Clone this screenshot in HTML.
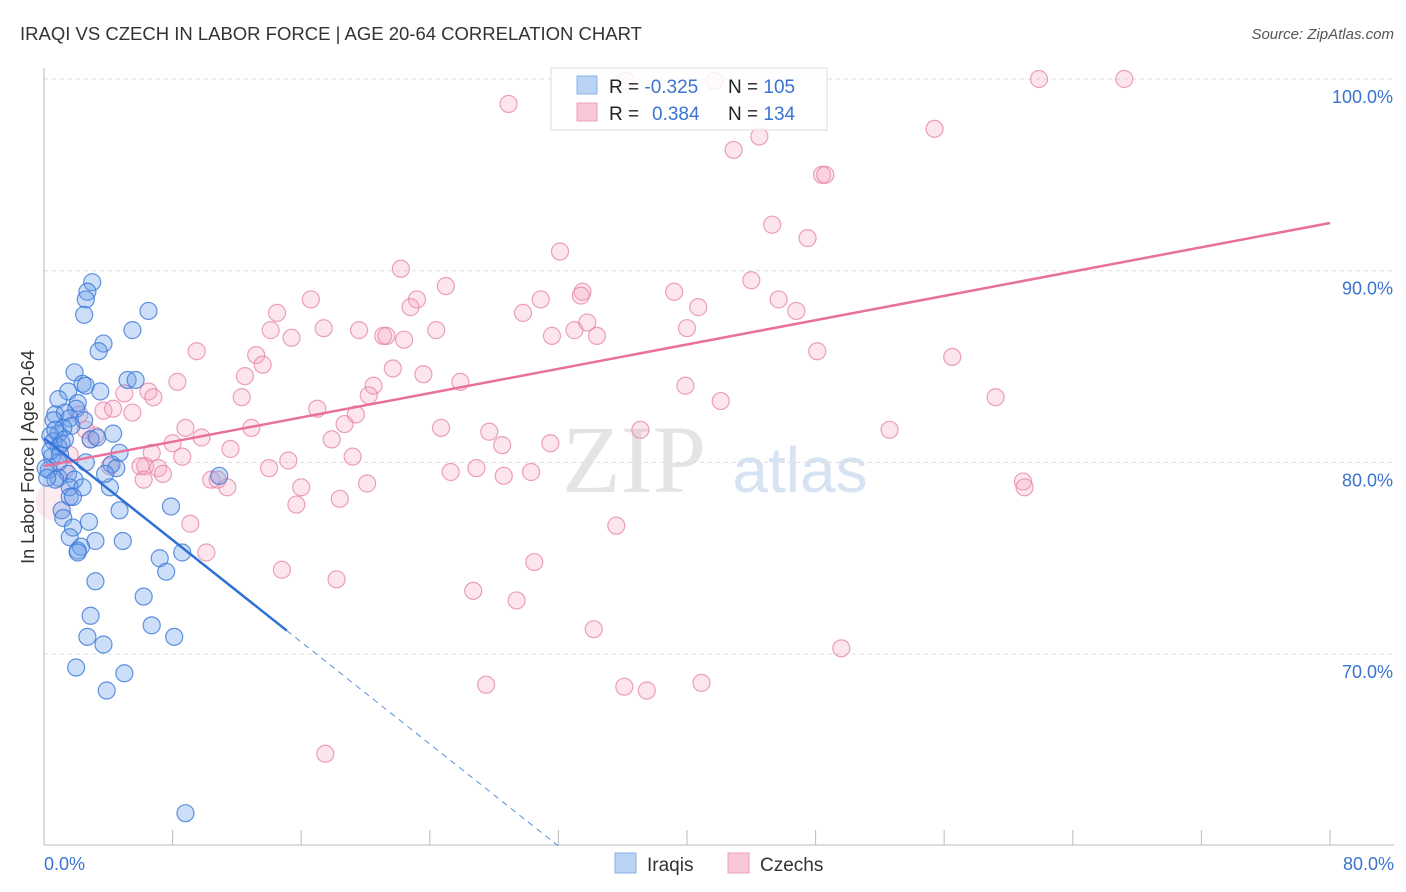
<!DOCTYPE html>
<html><head><meta charset="utf-8"><style>
body{margin:0;background:#fff;font-family:"Liberation Sans",sans-serif}
svg{display:block}
</style></head><body>
<svg id="chart" width="1406" height="892" xmlns="http://www.w3.org/2000/svg">
<text x="20" y="40" font-size="18.5" fill="#333">IRAQI VS CZECH IN LABOR FORCE | AGE 20-64 CORRELATION CHART</text>
<text x="1394" y="39" font-size="15" fill="#555" font-style="italic" text-anchor="end">Source: ZipAtlas.com</text>
<text x="634" y="492" font-size="96" fill="#e4e4e4" font-family="Liberation Serif,serif" text-anchor="middle">ZIP</text>
<text x="800" y="492" font-size="64" fill="#d6e3f3" text-anchor="middle">atlas</text>
<g id="grid"></g>
<g id="pts"></g>
<g id="lines"></g>
<text transform="translate(34,457) rotate(-90)" font-size="18" fill="#333" text-anchor="middle">In Labor Force | Age 20-64</text>
<g>
<rect x="551" y="68" width="276" height="62" fill="#fff" fill-opacity="0.82" stroke="#ddd"/>
<rect x="577" y="76" width="20" height="18" fill="#b9d3f5" stroke="#8ab0e8"/>
<rect x="577" y="103" width="20" height="18" fill="#f9c8d8" stroke="#eda0b9"/>
<text x="609" y="93" font-size="19" fill="#222">R = <tspan fill="#3a73d0">-0.325</tspan><tspan x="728">N = </tspan><tspan fill="#3a73d0">105</tspan></text>
<text x="609" y="120" font-size="19" fill="#222">R = <tspan x="652" fill="#3a73d0">0.384</tspan><tspan x="728">N = </tspan><tspan fill="#3a73d0">134</tspan></text>
</g>
<g>
<rect x="615" y="853" width="21" height="20" fill="#b9d3f5" stroke="#8ab0e8"/>
<text x="647" y="871" font-size="19" fill="#333">Iraqis</text>
<rect x="728" y="853" width="21" height="20" fill="#f9c8d8" stroke="#eda0b9"/>
<text x="760" y="871" font-size="19" fill="#333">Czechs</text>
</g>
</svg>
<script>
const xTicks=[0,8,16,24,32,40,48,56,64,72,80];
const yTicks=[70,80,90,100];
const yTickLabels=["70.0%","80.0%","90.0%","100.0%"];
const xAxisLabels=["0.0%","80.0%"];
const iraqX=[3.0,2.7,2.6,2.5,6.5,5.5,3.7,3.4,1.9,2.4,2.6,1.5,3.5,5.2,5.7,0.9,2.1,2.0,0.7,1.3,0.6,1.6,2.5,1.7,4.3,1.2,0.9,0.4,0.6,1.1,0.9,2.9,3.3,4.7,0.5,0.9,2.6,4.2,4.5,0.3,0.9,1.5,1.9,1.6,2.4,4.1,1.6,1.8,10.9,3.8,4.7,7.9,1.1,2.8,1.2,1.8,1.6,3.2,4.9,2.3,2.1,2.1,7.2,8.6,7.6,3.2,6.2,2.9,6.7,2.7,8.1,3.7,2.0,5.0,3.9,8.8,0.7,0.4,1.0,0.7,1.3,0.1,0.2];
const iraqY=[89.4,88.9,88.5,87.7,87.9,86.9,86.2,85.8,84.7,84.1,84.0,83.7,83.7,84.3,84.3,83.3,83.1,82.8,82.5,82.6,82.2,82.3,82.2,81.9,81.5,81.8,81.5,81.4,81.1,81.0,80.8,81.2,81.3,80.5,80.3,80.0,80.0,79.9,79.7,79.6,79.2,79.4,79.1,78.7,78.7,78.7,78.2,78.2,79.3,79.4,77.5,77.7,77.5,76.9,77.1,76.6,76.1,75.9,75.9,75.6,75.4,75.3,75.0,75.3,74.3,73.8,73.0,72.0,71.5,70.9,70.9,70.5,69.3,69.0,68.1,61.7,79.1,80.6,80.4,81.7,81.2,79.7,79.2];
const czechX=[28.9,36.2,41.7,61.9,67.2,55.4,42.9,44.5,48.4,48.6,45.3,47.5,32.1,22.2,25.0,16.6,33.5,33.4,39.2,40.7,44.0,45.7,46.8,30.9,29.8,23.2,22.8,14.5,14.1,15.4,17.4,19.6,21.1,21.3,22.4,24.4,31.6,33.0,33.8,34.4,40.0,9.5,13.2,13.6,21.7,23.6,25.9,12.5,8.3,20.5,20.2,12.3,39.9,42.1,48.1,56.5,59.2,52.6,5.0,6.5,6.8,3.7,4.3,5.5,17.0,18.7,19.4,17.9,24.7,27.7,28.5,31.5,37.1,12.9,8.8,9.8,8.0,6.7,8.6,11.6,6.0,6.3,7.1,7.4,6.2,4.1,14.0,15.2,19.2,25.3,26.9,28.6,30.3,10.4,10.8,11.4,16.0,20.1,18.4,15.7,60.9,61.0,9.1,10.1,14.8,18.2,30.5,35.6,26.7,29.4,34.2,49.6,27.5,36.1,37.5,40.9,17.5,2.6,2.9,3.2,2.2,1.6,1.3];
const czechY=[98.7,99.9,99.9,100,100,97.4,96.3,97.0,95.0,95.0,92.4,91.7,91.0,90.1,89.2,88.5,88.9,88.7,88.9,88.1,89.5,88.5,87.9,88.5,87.8,88.5,88.1,87.8,86.9,86.5,87.0,86.9,86.6,86.6,86.4,86.9,86.6,86.9,87.3,86.6,87.0,85.8,85.6,85.1,84.9,84.6,84.2,84.5,84.2,84.0,83.5,83.4,84.0,83.2,85.8,85.5,83.4,81.7,83.6,83.7,83.4,82.7,82.8,82.6,82.8,82.0,82.5,81.2,81.8,81.6,80.9,81.0,81.7,81.8,81.8,81.3,81.0,80.5,80.3,80.7,79.8,79.8,79.7,79.4,79.1,79.8,79.7,80.1,80.3,79.5,79.7,79.3,79.5,79.1,79.1,78.7,78.7,78.9,78.1,77.8,79.0,78.7,76.8,75.3,74.4,73.9,74.8,76.7,73.3,72.8,71.3,70.3,68.4,68.3,68.1,68.5,64.8,81.7,81.2,81.4,82.5,80.4,79.6];
const czechTrend=[79.81,92.49];
const iraqTrendStart=81.27, iraqSlope=-0.665, iraqSolidEnd=15.1;

const X=v=>44+v/80*1286;
const Y=v=>79+(100-v)*19.17;
const NS="http://www.w3.org/2000/svg";
function mk(tag,attrs,parent){const e=document.createElementNS(NS,tag);for(const k in attrs)e.setAttribute(k,attrs[k]);parent.appendChild(e);return e;}
const grid=document.getElementById('grid');
yTicks.forEach((t,i)=>{
  const l=mk('line',{x1:44,x2:1394,y1:Y(t),y2:Y(t),stroke:'#ddd','stroke-dasharray':'4,4'},grid);
  
  
  const tx=mk('text',{x:1393,y:Y(t)+24,'font-size':18,fill:'#3a73d0','text-anchor':'end'},grid);
  tx.textContent=yTickLabels[i];
  
  
});
const axX=mk('line',{x1:44,x2:1394,y1:845,y2:845,stroke:'#bbb'},grid);


const axY=mk('line',{x1:44,x2:44,y1:68,y2:845,stroke:'#bbb'},grid);


xTicks.forEach(t=>{
  const l=mk('line',{x1:X(t),x2:X(t),y1:830,y2:845,stroke:'#bbb'},grid);
  
  
});
[[0,'start',xAxisLabels[0]],[80,'end',xAxisLabels[1]]].forEach(a=>{
  const tx=mk('text',{x:a[0]===0?44:1394,y:870,'font-size':18,fill:'#3a73d0','text-anchor':a[1]},grid);
  tx.textContent=a[2];
  
  
});
const pts=document.getElementById('pts');
const big=mk('circle',{cx:X(0.7),cy:Y(78.0),r:20,fill:'rgba(240,150,180,0.18)'},pts);


czechX.forEach((x,i)=>{
  const c=mk('circle',{cx:X(x),cy:Y(czechY[i]),r:8.5,fill:'rgba(245,160,190,0.28)',stroke:'rgba(230,130,165,0.75)','stroke-width':1.2},pts);
  
  
});
iraqX.forEach((x,i)=>{
  const c=mk('circle',{cx:X(x),cy:Y(iraqY[i]),r:8.5,fill:'rgba(110,160,235,0.35)',stroke:'rgba(60,120,215,0.8)','stroke-width':1.2},pts);
  
  
});
const lines=document.getElementById('lines');
const ct=mk('line',{x1:X(0),y1:Y(czechTrend[0]),x2:X(80),y2:Y(czechTrend[1]),stroke:'#e8709a','stroke-width':2.5},lines);


const iy=x=>iraqTrendStart+iraqSlope*x;
const it=mk('line',{x1:X(0),y1:Y(iy(0)),x2:X(iraqSolidEnd),y2:Y(iy(iraqSolidEnd)),stroke:'#2f6fd6','stroke-width':2.5},lines);


const xe=(60-iraqTrendStart)/iraqSlope;
const id=mk('line',{x1:X(iraqSolidEnd),y1:Y(iy(iraqSolidEnd)),x2:X(xe),y2:Y(60),stroke:'#5b8fe0','stroke-width':1,'stroke-dasharray':'6,5'},lines);


</script>
</body></html>
